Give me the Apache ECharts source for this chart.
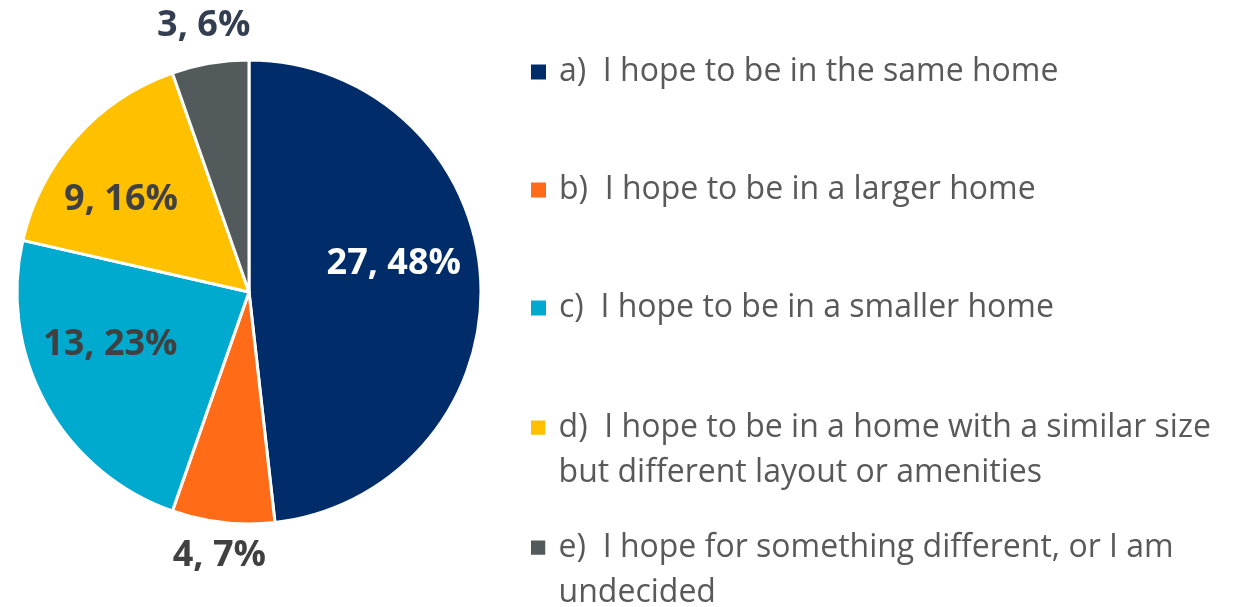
<!DOCTYPE html>
<html>
<head>
<meta charset="utf-8">
<script src="https://cdn.jsdelivr.net/npm/echarts@6/dist/echarts.min.js"></script>
<style>
  html, body { margin: 0; padding: 0; background: #fff; }
  #chart { width: 1245px; height: 607px; }
</style>
</head>
<body>
<div id="chart"></div>
<script>
var categories = [
  'a)  I hope to be in the same home',
  'b)  I hope to be in a larger home',
  'c)  I hope to be in a smaller home',
  'd)  I hope to be in a home with a similar size but different layout or amenities',
  'e)  I hope for something different, or I am undecided'
]
// wrapped legend text, as in the original
var legendText = [
  'a)  I hope to be in the same home',
  'b)  I hope to be in a larger home',
  'c)  I hope to be in a smaller home',
  'd)  I hope to be in a home with a similar size\nbut different layout or amenities',
  'e)  I hope for something different, or I am\nundecided'
]
var values = [27, 4, 13, 9, 3]

var colors = ['#002D6A', '#FF6B17', '#00A9CE', '#FFC000', '#525A5C']
var labelColors = ['#ffffff', '#404040', '#404040', '#404040', '#333F50']
var fontFamily = '"Open Sans", "Noto Sans", sans-serif'

var cx = 249, cy = 292, r = 232
// label distance (x radius) and angle tweak (deg) per slice
var labelDist = [0.636, 1.144, 0.64, 0.68, 1.165]
var labelTurn = [-8, 0, 8, -6, 0]

var chart = echarts.init(document.getElementById('chart'))

var total = values.reduce(function (s, v) { return s + v }, 0)
var midAngles = []
var acc = 0
values.forEach(function (v) {
  midAngles.push((acc + v / 2) / total * 360)
  acc += v
})

// one legend block per entry so first lines keep an even spacing
var legendTops = [49.5, 167.5, 285.5, 405.5, 525.5]
var squarePath = 'path://M0,0L14,0L14,14L0,14Z'
var topSquarePath = 'path://M0,0L14,0L14,14L0,14Z M0,59L0.01,59'
var legends = categories.map(function (name, i) {
  var twoLines = legendText[i].indexOf('\n') >= 0
  return {
    orient: 'vertical',
    left: 531,
    top: legendTops[i],
    padding: 0,
    itemWidth: 15,
    itemHeight: twoLines ? 60 : 15,
    icon: twoLines ? topSquarePath : squarePath,
    itemStyle: { borderWidth: 0 },
    selectedMode: false,
    data: [name],
    formatter: function () { return legendText[i] },
    textStyle: {
      color: '#595959',
      fontSize: 32,
      fontFamily: fontFamily,
      lineHeight: 45,
      padding: [0, 0, 0, 8]
    }
  }
})

var option = {
  animation: false,
  color: colors,
  legend: legends,
  series: [
    {
      type: 'pie',
      center: [cx, cy],
      radius: r,
      startAngle: 90,
      clockwise: true,
      percentPrecision: 0,
      avoidLabelOverlap: false,
      itemStyle: {
        borderColor: '#ffffff',
        borderWidth: 3
      },
      label: {
        show: true,
        position: 'inside',
        formatter: '{c}, {d}%',
        fontFamily: fontFamily,
        fontSize: 36,
        fontWeight: 'bold'
      },
      labelLine: { show: false },
      labelLayout: function (p) {
        var i = p.dataIndex
        var a = (midAngles[i] + labelTurn[i]) * Math.PI / 180
        var d = labelDist[i] * r
        return {
          x: cx + Math.sin(a) * d,
          y: cy - Math.cos(a) * d,
          align: 'center',
          verticalAlign: 'middle'
        }
      },
      emphasis: { disabled: true },
      data: categories.map(function (name, i) {
        return {
          name: name,
          value: values[i],
          label: { color: labelColors[i] }
        }
      })
    }
  ]
}

chart.setOption(option)
</script>
</body>
</html>
